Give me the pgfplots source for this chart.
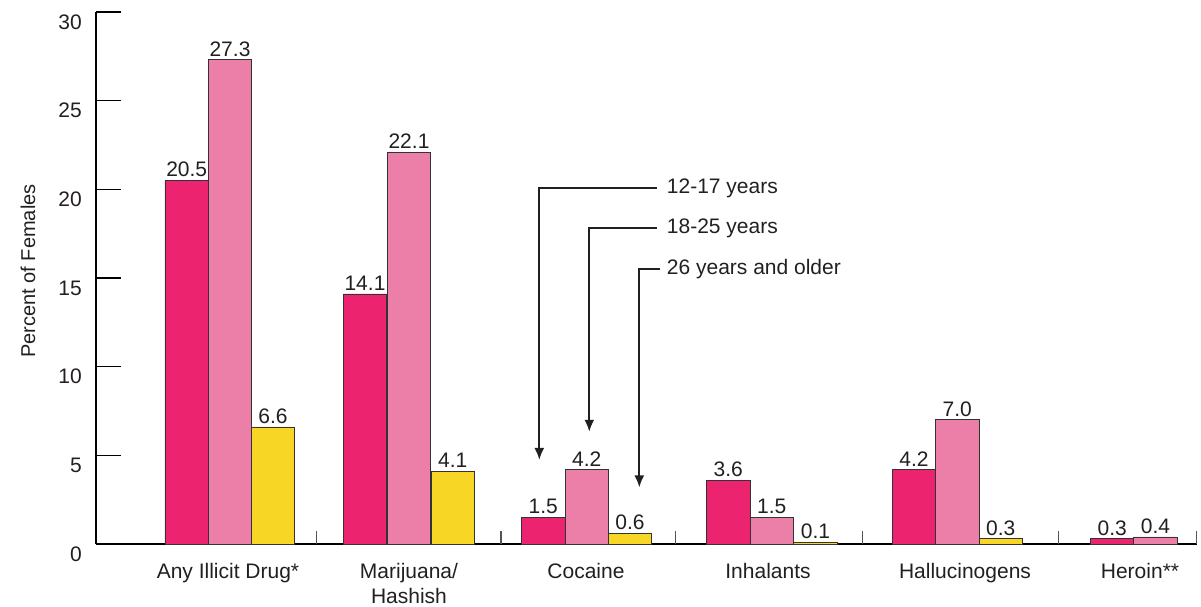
\documentclass[border=0pt]{standalone}
\usepackage{fontspec}
\setmainfont{Liberation Sans}
\usepackage{pgfplots}
\usepackage{pgfplotstable}
\pgfplotsset{compat=1.18}
\usetikzlibrary{arrows.meta}
\definecolor{cA}{HTML}{EC236E}
\definecolor{cB}{HTML}{EC7FA8}
\definecolor{cC}{HTML}{F8D626}
\definecolor{textc}{HTML}{231F20}
\definecolor{barline}{HTML}{333333}
\definecolor{sepc}{HTML}{555555}

% x = bar centre (axis units = pt), y = percent
\pgfplotstableread{
x y
186.7 20.5
365.0 14.1
543.3 1.5
728.3 3.6
914.0 4.2
1112.3 0.3
}\tA
\pgfplotstableread{
x y
230.0 27.3
409.0 22.1
586.7 4.2
771.8 1.5
957.3 7.0
1155.5 0.4
}\tB
\pgfplotstableread{
x y
273.0 6.6
452.8 4.1
630.0 0.6
815.5 0.1
1000.8 0.3
}\tC

\begin{document}
\fontsize{21}{25}\selectfont
\begin{tikzpicture}
\begin{axis}[
  at={(0,0)}, anchor=south west,
  scale only axis, width=1101pt, height=532pt,
  xmin=96, xmax=1197, ymin=0, ymax=30,
  axis x line*=bottom, axis y line*=left,
  axis line style={line width=1.5pt, color=black, -},
  clip=false,
  tick align=inside,
  /pgf/number format/assume math mode=true,
  ytick={0,5,...,30},
  ytick style={line width=1.5pt, color=black, /pgfplots/major tick length=25pt},
  yticklabel style={anchor=east, xshift=-7pt, yshift=-10pt, text=textc},
  xtick={228,409,586,768,965,1140},
  xticklabels={Any Illicit Drug*, {Marijuana/\\Hashish}, Cocaine, Inhalants, Hallucinogens, Heroin**},
  xticklabel style={align=center, text=textc, yshift=-12pt},
  xtick style={draw=none},
  extra x ticks={316.7,501,675.7,862.7,1058.7,1196.7},
  extra x tick labels={},
  extra x tick style={xtick style={draw=sepc, line width=1.2pt, /pgfplots/major tick length=13pt}},
  ylabel={Percent of Females},
  ylabel style={at={(axis description cs:-0.0618,0.513)}, anchor=center, text=textc, font=\fontsize{20}{24}\selectfont},
  nodes near coords={\pgfmathprintnumber[fixed,fixed zerofill,precision=1]{\pgfplotspointmeta}},
  every node near coord/.append style={anchor=south, inner sep=0pt, yshift=3pt, text=textc},
]
\addplot[ybar, bar width=43.4, fill=cA, draw=barline, line width=0.8pt] table[x=x,y=y] {\tA};
\addplot[ybar, bar width=43.4, fill=cB, draw=barline, line width=0.8pt] table[x=x,y=y] {\tB};
\addplot[ybar, bar width=43.4, fill=cC, draw=barline, line width=0.8pt] table[x=x,y=y] {\tC};

\draw[line width=2pt, color=textc, -{Latex[length=12pt,width=10pt]}]
  (axis cs:656.7,20.06) -- (axis cs:539.3,20.06) -- (axis cs:539.3,4.74);
\node[anchor=west, text=textc, inner sep=0pt] at (axis cs:666.7,20.06) {12-17 years};
\draw[line width=2pt, color=textc, -{Latex[length=12pt,width=10pt]}]
  (axis cs:656.7,17.8) -- (axis cs:589.3,17.8) -- (axis cs:589.3,6.33);
\node[anchor=west, text=textc, inner sep=0pt] at (axis cs:666.7,17.8) {18-25 years};
\draw[line width=2pt, color=textc, -{Latex[length=12pt,width=10pt]}]
  (axis cs:660,15.48) -- (axis cs:639.3,15.48) -- (axis cs:639.3,3.19);
\node[anchor=west, text=textc, inner sep=0pt] at (axis cs:666.7,15.48) {26 years and older};
\end{axis}
\pgfresetboundingbox
\useasboundingbox (-96pt,-62pt) rectangle (1105pt,544pt);
\end{tikzpicture}
\end{document}
